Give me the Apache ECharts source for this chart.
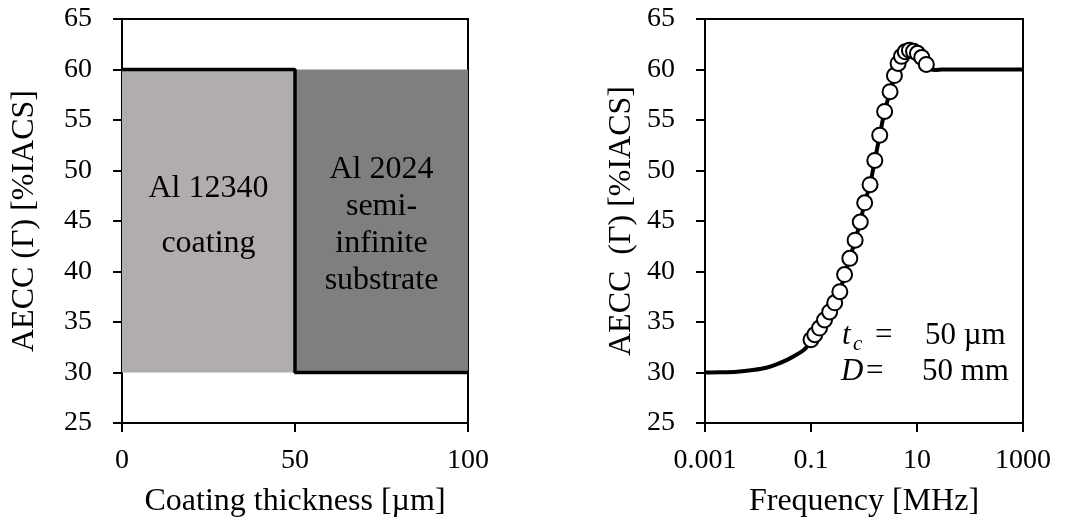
<!DOCTYPE html>
<html>
<head>
<meta charset="utf-8">
<script src="https://cdn.jsdelivr.net/npm/echarts@6/dist/echarts.min.js"></script>
<style>html,body{margin:0;padding:0;background:#fff}#c{width:1067px;height:524px}</style>
</head>
<body>
<div id="c"></div>
<script>
// ---- Left panel data ----
const stepX = [0, 50, 50, 100];
const stepY = [60, 60, 30, 30];
const regionNames = ['Al 12340\ncoating', 'Al 2024\nsemi-\ninfinite\nsubstrate'];
const regionX0 = [0, 50];
const regionX1 = [50, 100];
const regionY0 = [30, 30];
const regionY1 = [60, 60];
const regionColors = ['#b1adac', '#7f7f7f'];

// ---- Right panel data ----
const curveFreq = [0.001, 0.002, 0.004, 0.008, 0.015, 0.025, 0.04, 0.055, 0.072, 0.085, 0.1,
  0.118, 0.145, 0.18, 0.225, 0.28, 0.35, 0.43, 0.54, 0.68, 0.85, 1.03, 1.3, 1.6, 1.98, 2.45,
  3.1, 3.75, 4.4, 5.1, 6.0, 7.2, 8.6, 10.2, 12.3, 15.0, 18, 22, 30, 60, 150, 400, 1000];
const curveAecc = [30.0, 30.02, 30.08, 30.25, 30.5, 30.9, 31.4, 31.8, 32.2, 32.6, 33.2,
  33.75, 34.4, 35.2, 36.0, 36.9, 38.0, 39.7, 41.3, 43.1, 44.9, 46.8, 48.6, 51.0, 53.5, 55.85,
  57.8, 59.4, 60.6, 61.3, 61.75, 61.9, 61.8, 61.6, 61.2, 60.5, 60.05, 59.95, 60.0, 60.0, 60.0, 60.0, 60.0];
const markerFreq = [0.1, 0.118, 0.145, 0.18, 0.225, 0.28, 0.35, 0.43, 0.54, 0.68, 0.85, 1.03,
  1.3, 1.6, 1.98, 2.45, 3.1, 3.75, 4.4, 5.1, 6.0, 7.2, 8.6, 10.2, 12.3, 15.0];
const markerAecc = [33.25, 33.75, 34.4, 35.2, 36.0, 36.9, 38.0, 39.7, 41.3, 43.1, 44.9, 46.8,
  48.6, 51.0, 53.5, 55.85, 57.8, 59.4, 60.6, 61.3, 61.75, 61.9, 61.8, 61.6, 61.2, 60.5];

// ---- Axis ticks ----
const yMin = 25, yMax = 65, yStep = 5;
const leftXMin = 0, leftXMax = 100, leftXStep = 50;
const freqTicks = [0.001, 0.1, 10, 1000];

const FONT = "'Liberation Serif', 'Times New Roman', serif";
const tickLabel = { color: '#000', fontFamily: FONT, fontSize: 28 };
const nameStyle = { color: '#000', fontFamily: FONT, fontSize: 32 };
const axLine = { show: true, lineStyle: { color: '#000', width: 2 } };
const axTick = { show: true, inside: false, length: 9, lineStyle: { color: '#000', width: 2 } };

const chart = echarts.init(document.getElementById('c'), null, { renderer: 'canvas' });

const markAreaData = regionNames.map((n, i) => [
  { name: n, xAxis: regionX0[i], yAxis: regionY0[i], itemStyle: { color: regionColors[i] },
    label: { lineHeight: i === 0 ? 55 : 37, offset: [0, i === 0 ? -5 : 4] } },
  { xAxis: regionX1[i], yAxis: regionY1[i] }
]);

function yAxisCfg(gridIndex, name, gap) {
  return {
    type: 'value', gridIndex, min: yMin, max: yMax, interval: yStep,
    name, nameLocation: 'middle', nameGap: gap, nameTextStyle: nameStyle,
    axisLine: axLine, axisTick: axTick, splitLine: { show: false },
    axisLabel: Object.assign({ margin: 30 }, tickLabel)
  };
}

chart.setOption({
  animation: false,
  backgroundColor: '#fff',
  grid: [
    { left: 122, right: 599, top: 19, bottom: 101, show: true, borderColor: '#000', borderWidth: 2, backgroundColor: 'transparent' },
    { left: 705, right: 44, top: 19, bottom: 101, show: true, borderColor: '#000', borderWidth: 2, backgroundColor: 'transparent' }
  ],
  xAxis: [
    {
      type: 'value', gridIndex: 0, min: leftXMin, max: leftXMax, interval: leftXStep,
      name: 'Coating thickness [µm]', nameLocation: 'middle', nameGap: 63, nameTextStyle: nameStyle,
      axisLine: axLine, axisTick: axTick, splitLine: { show: false },
      axisLabel: Object.assign({ margin: 24 }, tickLabel)
    },
    {
      type: 'log', gridIndex: 1, logBase: 10, min: freqTicks[0], max: freqTicks[freqTicks.length - 1],
      name: 'Frequency [MHz]', nameLocation: 'middle', nameGap: 63, nameTextStyle: nameStyle,
      axisLine: axLine, splitLine: { show: false }, minorTick: { show: false },
      axisTick: Object.assign({ customValues: freqTicks }, axTick),
      axisLabel: Object.assign({ margin: 24, customValues: freqTicks,
        formatter: v => String(+(+v).toPrecision(6)) }, tickLabel)
    }
  ],
  yAxis: [
    yAxisCfg(0, 'AECC (Γ) [%IACS]', 81),
    yAxisCfg(1, 'AECC  (Γ) [%IACS]', 67)
  ],
  series: [
    {
      type: 'line', xAxisIndex: 0, yAxisIndex: 0, silent: true,
      data: stepX.map((x, i) => [x, stepY[i]]),
      showSymbol: false, symbol: 'none',
      lineStyle: { color: '#000', width: 3.5 }, z: 5,
      markArea: {
        silent: true,
        label: { show: true, position: 'inside', color: '#000', fontFamily: FONT, fontSize: 32, align: 'center', verticalAlign: 'middle' },
        data: markAreaData
      }
    },
    {
      type: 'line', xAxisIndex: 1, yAxisIndex: 1, silent: true,
      data: curveFreq.map((x, i) => [x, curveAecc[i]]),
      showSymbol: false, symbol: 'none', smooth: 0.3,
      lineStyle: { color: '#000', width: 4 }, z: 3
    },
    {
      type: 'scatter', xAxisIndex: 1, yAxisIndex: 1, silent: true,
      data: markerFreq.map((x, i) => [x, markerAecc[i]]),
      symbol: 'circle', symbolSize: 15,
      itemStyle: { color: '#fff', borderColor: '#000', borderWidth: 2, opacity: 1 }, z: 4
    }
  ],
  graphic: [
    { type: 'text', left: 842, top: 320, style: { text: 't', font: "italic 31px " + FONT, fill: '#000' } },
    { type: 'text', left: 853, top: 334, style: { text: 'c', font: "italic 21px " + FONT, fill: '#000' } },
    { type: 'text', left: 875, top: 320, style: { text: '=', font: "31px " + FONT, fill: '#000' } },
    { type: 'text', left: 925, top: 320, style: { text: '50 µm', font: "31px " + FONT, fill: '#000' } },
    { type: 'text', left: 841, top: 356, style: { text: 'D', font: "italic 31px " + FONT, fill: '#000' } },
    { type: 'text', left: 866, top: 356, style: { text: '=', font: "31px " + FONT, fill: '#000' } },
    { type: 'text', left: 922, top: 356, style: { text: '50 mm', font: "31px " + FONT, fill: '#000' } }
  ]
});
</script>
</body>
</html>
